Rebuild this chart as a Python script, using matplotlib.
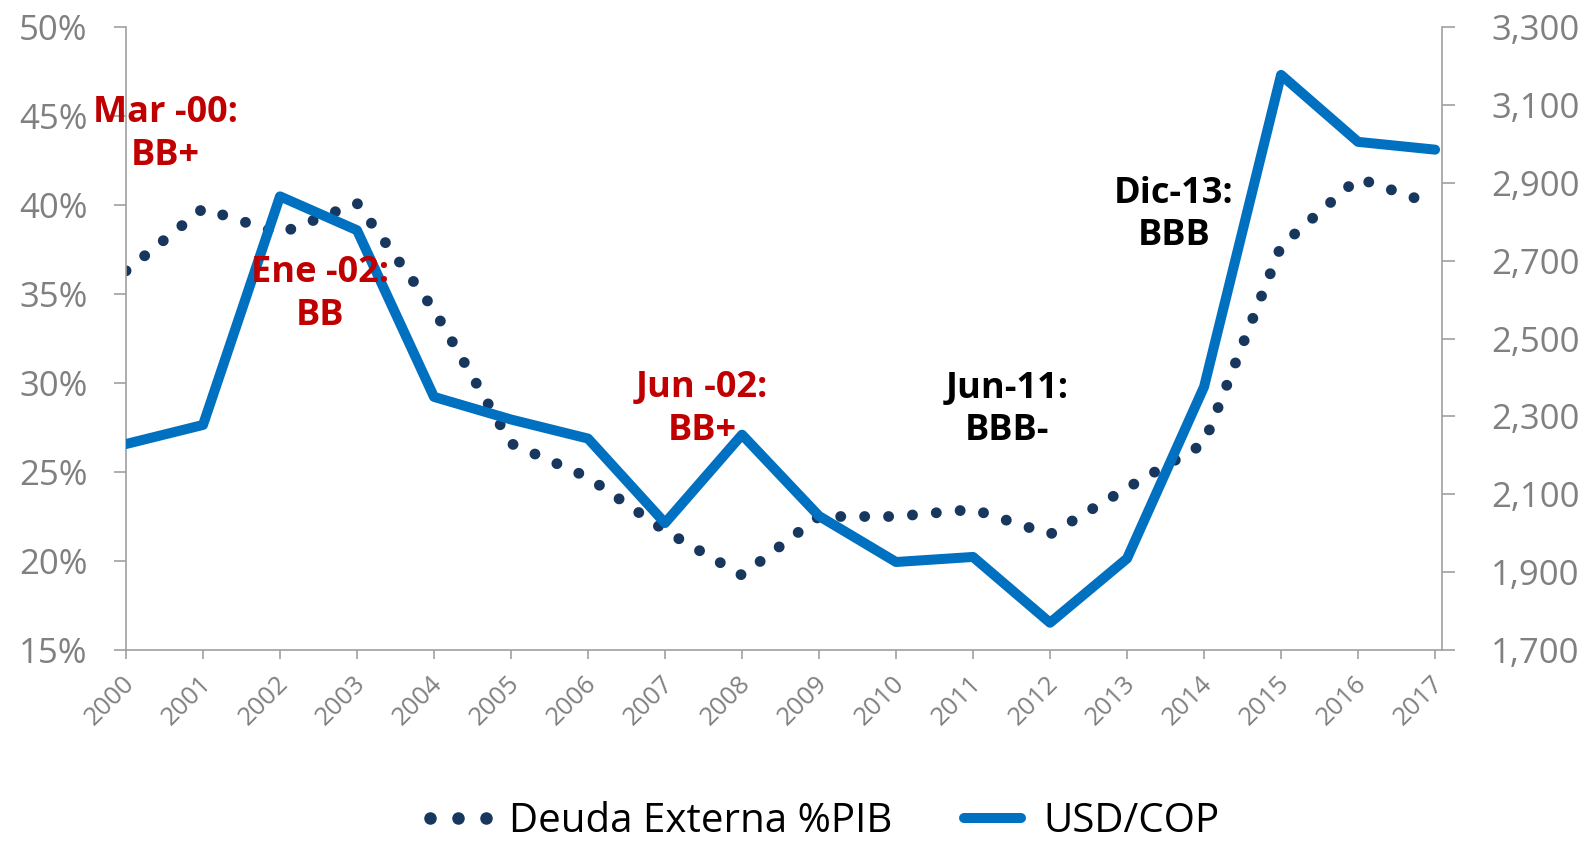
import matplotlib
matplotlib.use("Agg")
import matplotlib.pyplot as plt
import matplotlib.transforms as mtransforms
from matplotlib.lines import Line2D
from matplotlib.ticker import FixedLocator, FuncFormatter, MultipleLocator

plt.rcParams["font.family"] = ["Open Sans", "DejaVu Sans"]

years = list(range(2000, 2018))
deuda_pct = [36.3, 39.8, 38.4, 40.1, 34.1, 26.6, 24.7, 21.7, 19.2, 22.5,
             22.5, 22.9, 21.5, 24.1, 26.6, 37.7, 41.5, 40.0]
usd_cop = [2229, 2278, 2865, 2778, 2350, 2292, 2243, 2026, 2253, 2044,
           1926, 1939, 1770, 1935, 2376, 3177, 3005, 2985]
cop_ticks = list(range(1700, 3301, 200))

rating_labels = ["Mar -00:\nBB+", "Ene -02:\nBB", "Jun -02:\nBB+", "Jun-11:\nBBB-", "Dic-13:\nBBB"]
rating_x = [2000.51, 2002.52, 2007.48, 2011.44, 2013.61]
rating_y = [43.96, 34.97, 28.51, 28.48, 39.44]
rating_colors = ["#C00000", "#C00000", "#C00000", "#000000", "#000000"]

navy = "#17375E"
blue = "#0070C0"
axis_grey = "#A0A0A0"
label_grey = "#808080"

fig = plt.figure(figsize=(15.91, 8.41), dpi=100)
ax = fig.add_axes([126 / 1591, 1 - 650 / 841, (1442 - 126) / 1591, 623 / 841])
ax2 = ax.twinx()

# dotted debt line on the left axis, exchange rate on the right one
ax.plot(years, deuda_pct, color=navy, lw=7.8, linestyle=(0, (0.01, 2.2)),
        dash_capstyle="round")
ax2.plot(years, usd_cop, color=blue, lw=7.2, solid_capstyle="round",
         solid_joinstyle="round")

ax.set_xlim(2000, 2017.09)
ax.set_ylim(15, 50)
ax2.set_ylim(1700, 3300)
ax.yaxis.set_major_locator(MultipleLocator(5))
ax2.yaxis.set_major_locator(FixedLocator(cop_ticks))
ax.yaxis.set_major_formatter(FuncFormatter(lambda v, p: f"{v:.0f}%"))
ax2.yaxis.set_major_formatter(FuncFormatter(lambda v, p: f"{v:,.0f}"))
ax.set_xticks(years)
ax.set_xticklabels([str(y) for y in years])

for a in (ax, ax2):
    a.spines["top"].set_visible(False)
    for s in a.spines.values():
        s.set_color(axis_grey)
        s.set_linewidth(1.2)
ax2.spines["left"].set_visible(False)
ax2.spines["bottom"].set_visible(False)
ax.spines["right"].set_visible(False)

ax.tick_params(axis="y", direction="out", length=8.6, width=1.2, color=axis_grey,
               labelcolor=label_grey, labelsize=25, pad=19)
ax2.tick_params(axis="y", direction="out", length=9.5, width=1.2, color=axis_grey,
                labelcolor=label_grey, labelsize=25, pad=26)
ax.tick_params(axis="x", direction="out", length=6.5, width=1.2, color=axis_grey,
               labelcolor=label_grey, labelsize=18.5, pad=18.5)

shift = mtransforms.ScaledTranslation(9 / 100, 0, fig.dpi_scale_trans)
for lab in ax.get_xticklabels():
    lab.set_rotation(45)
    lab.set_ha("right")
    lab.set_va("baseline")
    lab.set_rotation_mode("anchor")
    lab.set_transform(lab.get_transform() + shift)

for label, x, y, c in zip(rating_labels, rating_x, rating_y, rating_colors):
    ax2.text(x, y, label, transform=ax.transData, color=c, fontsize=26,
             fontweight="bold", ha="center", va="center", multialignment="center",
             linespacing=1.25, zorder=10)

handles = [
    Line2D([], [], ls="none", marker="o", ms=8, color=navy),
    Line2D([], [], color=blue, lw=7.2, solid_capstyle="round"),
]
fig.legend(handles, ["Deuda Externa %PIB", "USD/COP"], loc="center",
           bbox_to_anchor=(0.5145, 0.0225), ncol=2, frameon=False, fontsize=29,
           numpoints=3, handlelength=2.0, handletextpad=0.25, columnspacing=1.5)

fig.savefig("out.png", dpi=100)
